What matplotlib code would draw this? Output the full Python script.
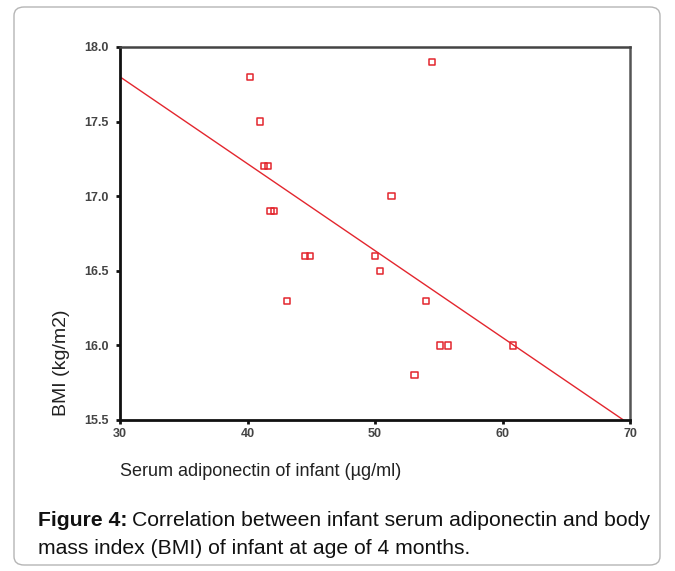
"""Scatter of infant BMI against serum adiponectin, with fitted line."""

import matplotlib

matplotlib.use("Agg")
import matplotlib.pyplot as plt
from matplotlib.patches import FancyBboxPatch

# values
adiponectin = [40.2, 54.5, 41.0, 41.3, 41.6, 41.8, 42.1, 51.3, 44.5, 44.9,
               50.0, 50.4, 43.1, 54.0, 55.1, 55.7, 60.8, 53.1]
bmi = [17.8, 17.9, 17.5, 17.2, 17.2, 16.9, 16.9, 17.0, 16.6, 16.6,
       16.6, 16.5, 16.3, 16.3, 16.0, 16.0, 16.0, 15.8]
fit_x = [30, 70]
fit_y = [17.8, 15.47]
x_ticks = [30, 40, 50, 60, 70]
y_ticks = [15.5, 16.0, 16.5, 17.0, 17.5, 18.0]

RED = "#e3262e"
plt.rcParams["font.family"] = ["Liberation Sans", "DejaVu Sans"]

fig = plt.figure(figsize=(6.75, 5.71), dpi=100)

# rounded frame around the whole figure
frame = FancyBboxPatch((14 / 675, 6 / 571), 646 / 675, 558 / 571,
                       boxstyle="round,pad=0,rounding_size=0.015",
                       transform=fig.transFigure, facecolor="none",
                       edgecolor="#b5b5b5", linewidth=1.0, zorder=-1)
fig.patches.append(frame)

ax = fig.add_axes([120 / 675, 1 - 420 / 571, 510 / 675, 373 / 571])
ax.plot(fit_x, fit_y, color=RED, linewidth=1.0, zorder=2)
ax.scatter(adiponectin, bmi, marker="s", s=20, facecolors="none",
           edgecolors=RED, linewidths=1.1, zorder=3)

ax.set_xlim(30, 70)
ax.set_ylim(15.5, 18.0)
ax.set_xticks(x_ticks)
ax.set_yticks(y_ticks)
ax.set_xticklabels([str(v) for v in x_ticks])
ax.set_yticklabels([f"{v:.1f}" for v in y_ticks])
ax.tick_params(axis="both", direction="out", length=3, width=2,
               labelsize=9, colors="#111111", labelcolor="#444444")
ax.tick_params(axis="y", pad=5)
ax.tick_params(axis="x", pad=3)
for lab in ax.get_xticklabels() + ax.get_yticklabels():
    lab.set_fontweight("bold")

ax.spines["left"].set_linewidth(2)
ax.spines["bottom"].set_linewidth(2)
ax.spines["left"].set_color("#111111")
ax.spines["bottom"].set_color("#111111")
ax.spines["top"].set_linewidth(1.8)
ax.spines["right"].set_linewidth(1.8)
ax.spines["top"].set_color("#444444")
ax.spines["right"].set_color("#555555")

fig.text(62 / 675, 1 - 363 / 571, "BMI (kg/m2)", rotation=90,
         ha="center", va="center", fontsize=14, color="#222222")
fig.text(120 / 675, 1 - 471 / 571, "Serum adiponectin of infant (µg/ml)",
         ha="left", va="center", fontsize=13, color="#222222")

# caption: bold lead-in followed by normal text
fig.canvas.draw()
renderer = fig.canvas.get_renderer()
lead = fig.text(38 / 675, 1 - 521 / 571, "Figure 4:", fontweight="bold",
                ha="left", va="center", fontsize=15.2, color="#111111")
box = lead.get_window_extent(renderer=renderer)
fig.text(box.x1 / fig.bbox.width + 4 / 675, 1 - 521 / 571,
         "Correlation between infant serum adiponectin and body",
         ha="left", va="center", fontsize=15.2, color="#111111")
fig.text(38 / 675, 1 - 548 / 571,
         "mass index (BMI) of infant at age of 4 months.",
         ha="left", va="center", fontsize=15.2, color="#111111")

fig.savefig("out.png", dpi=100)
